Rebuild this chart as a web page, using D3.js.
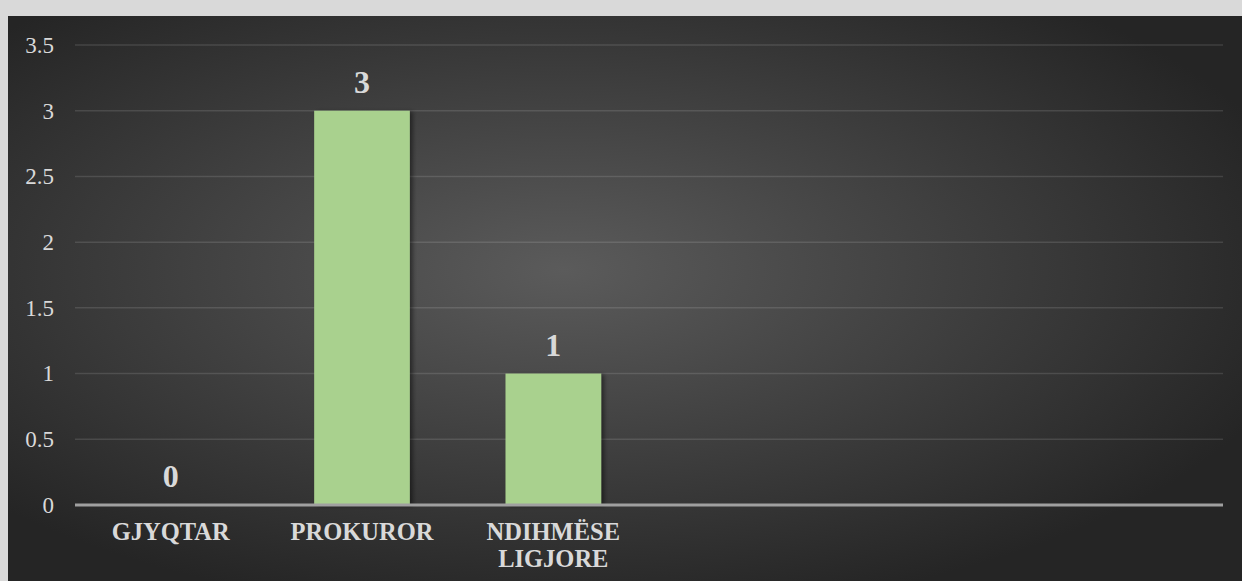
<!DOCTYPE html>
<html>
<head>
<meta charset="utf-8">
<script src="https://cdn.jsdelivr.net/npm/d3@7"></script>
<style>
html,body{margin:0;padding:0;background:#d9d9d9;}
svg{display:block;}
</style>
</head>
<body>
<svg id="chart" width="1242" height="581"></svg>
<script>
const categories = ["GJYQTAR", "PROKUROR", "NDIHMËSE LIGJORE", "", "", ""];
const values = [0, 3, 1, null, null, null];
const yTicks = [0, 0.5, 1, 1.5, 2, 2.5, 3, 3.5];
const yTickLabels = ["0", "0.5", "1", "1.5", "2", "2.5", "3", "3.5"];

(function () {
const W = 1242, H = 581;
const svg = d3.select("#chart");
const defs = svg.append("defs");
const grad = defs.append("radialGradient").attr("id", "bg")
  .attr("cx", "45%").attr("cy", "45%").attr("r", "62%");
grad.append("stop").attr("offset", "0%").attr("stop-color", "#5b5b5b");
grad.append("stop").attr("offset", "100%").attr("stop-color", "#252525");
const shadow = defs.append("filter").attr("id", "shadow")
  .attr("x", "-20%").attr("y", "-20%").attr("width", "150%").attr("height", "150%");
shadow.append("feDropShadow").attr("dx", 3).attr("dy", 1).attr("stdDeviation", 2)
  .attr("flood-color", "#000").attr("flood-opacity", 0.45);

svg.append("rect").attr("x", 0).attr("y", 0).attr("width", W).attr("height", H).attr("fill", "#d9d9d9");
svg.append("rect").attr("x", 8).attr("y", 16).attr("width", W - 8).attr("height", H - 16).attr("fill", "url(#bg)");

const mLeft = 75, mRight = 1223, mTop = 45, mBottom = 505;
const x = d3.scaleBand().domain(d3.range(categories.length)).range([mLeft, mRight])
  .paddingInner(0.5).paddingOuter(0.25);
const y = d3.scaleLinear().domain([0, 3.5]).range([mBottom, mTop]);

// gridlines
svg.append("g").selectAll("line").data(yTicks.filter(d => d > 0)).join("line")
  .attr("x1", mLeft).attr("x2", mRight)
  .attr("y1", d => y(d)).attr("y2", d => y(d))
  .attr("stroke", "#ffffff").attr("stroke-opacity", 0.12).attr("stroke-width", 1.5);

// y axis labels
const yAxis = d3.axisLeft(y).tickValues(yTicks).tickSize(0).tickPadding(21)
  .tickFormat((d, i) => yTickLabels[i]);
const gy = svg.append("g").attr("transform", `translate(${mLeft},0)`).call(yAxis);
gy.select(".domain").remove();
gy.selectAll("text").attr("font-family", "'Liberation Serif', 'Times New Roman', serif")
  .attr("font-size", 23).attr("fill", "#d9d9d9");

// bars
const data = categories.map((c, i) => ({c, v: values[i], i})).filter(d => d.v != null);
svg.append("g").selectAll("rect").data(data.filter(d => d.v > 0)).join("rect")
  .attr("x", d => x(d.i)).attr("width", x.bandwidth())
  .attr("y", d => y(d.v)).attr("height", d => y(0) - y(d.v))
  .attr("fill", "#a9d18e").attr("filter", "url(#shadow)");

// x axis line
svg.append("line").attr("x1", mLeft).attr("x2", mRight)
  .attr("y1", y(0)).attr("y2", y(0))
  .attr("stroke", "#a0a0a0").attr("stroke-width", 3);

// data labels
svg.append("g").selectAll("text").data(data).join("text")
  .attr("x", d => x(d.i) + x.bandwidth() / 2)
  .attr("y", d => y(d.v) - 18)
  .attr("text-anchor", "middle")
  .attr("font-family", "'Liberation Serif', 'Times New Roman', serif")
  .attr("font-weight", "bold").attr("font-size", 32).attr("fill", "#d9d9d9")
  .text(d => d.v);

// category labels
const xl = svg.append("g");
categories.forEach((c, i) => {
  if (!c) return;
  const words = c.split(" ");
  const t = xl.append("text")
    .attr("x", x(i) + x.bandwidth() / 2).attr("y", 540)
    .attr("text-anchor", "middle")
    .attr("font-family", "'Liberation Serif', 'Times New Roman', serif")
    .attr("font-weight", "bold").attr("font-size", 24.5).attr("fill", "#d9d9d9");
  words.forEach((w, k) => {
    t.append("tspan").attr("x", x(i) + x.bandwidth() / 2).attr("dy", k === 0 ? 0 : 27).text(w);
  });
});
})();
</script>
</body>
</html>
